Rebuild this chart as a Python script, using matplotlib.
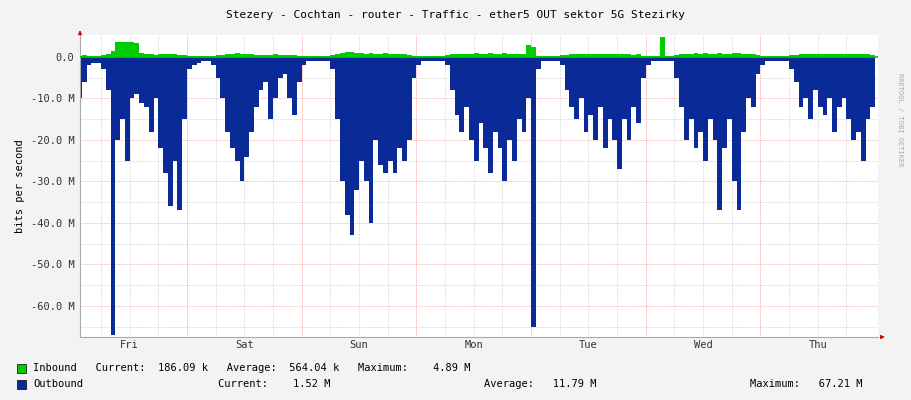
import matplotlib
matplotlib.use("Agg")
import matplotlib.pyplot as plt
import numpy as np

days = ["Fri", "Sat", "Sun", "Mon", "Tue", "Wed", "Thu"]
# outbound (M bits/s, plotted negative), hourly per day
out_fri = [10, 10, 6, 2, 1.5, 1.5, 3, 8, 67, 20, 15, 25, 10, 9, 11, 12, 18, 10, 22, 28, 36, 25, 37, 15]
out_sat = [3, 2, 1.5, 1, 1, 2, 5, 10, 18, 22, 25, 30, 24, 18, 12, 8, 6, 15, 10, 5, 4, 10, 14, 6]
out_sun = [2, 1, 1, 1, 1, 1, 3, 15, 30, 38, 43, 32, 25, 30, 40, 20, 26, 28, 25, 28, 22, 25, 20, 5]
out_mon = [2, 1, 1, 1, 1, 1, 2, 8, 14, 18, 12, 20, 25, 16, 22, 28, 18, 22, 30, 20, 25, 15, 18, 10]
out_tue = [65, 3, 1, 1, 1, 1, 2, 8, 12, 15, 10, 18, 14, 20, 12, 22, 15, 20, 27, 15, 20, 12, 16, 5]
out_wed = [2, 1, 1, 1, 1, 1, 5, 12, 20, 15, 22, 18, 25, 15, 20, 37, 22, 15, 30, 37, 18, 10, 12, 4]
out_thu = [2, 1, 1, 1, 1, 1, 3, 6, 12, 10, 15, 8, 12, 14, 10, 18, 12, 10, 15, 20, 18, 25, 15, 12]
# inbound (M bits/s), hourly per day
in_fri = [0.3, 0.3, 0.4, 0.3, 0.3, 0.3, 0.4, 0.8, 1.5, 3.5, 3.6, 3.5, 3.6, 3.4, 1.0, 0.6, 0.8, 0.5, 0.6, 0.7, 0.8, 0.6, 0.5, 0.4]
in_sat = [0.3, 0.2, 0.2, 0.2, 0.2, 0.3, 0.4, 0.5, 0.6, 0.8, 0.9, 0.8, 0.7, 0.6, 0.5, 0.5, 0.4, 0.5, 0.6, 0.5, 0.4, 0.5, 0.4, 0.3]
in_sun = [0.2, 0.2, 0.2, 0.2, 0.2, 0.3, 0.4, 0.8, 1.0, 1.1, 1.2, 1.0, 0.9, 0.8, 0.9, 0.7, 0.8, 0.9, 0.8, 0.7, 0.6, 0.6, 0.5, 0.3]
in_mon = [0.2, 0.2, 0.2, 0.2, 0.2, 0.3, 0.4, 0.6, 0.7, 0.8, 0.7, 0.8, 0.9, 0.7, 0.8, 0.9, 0.7, 0.8, 0.9, 0.7, 0.8, 0.6, 0.7, 2.8]
in_tue = [2.5, 0.3, 0.2, 0.2, 0.2, 0.3, 0.4, 0.5, 0.6, 0.7, 0.6, 0.7, 0.6, 0.7, 0.6, 0.7, 0.6, 0.7, 0.8, 0.6, 0.7, 0.5, 0.6, 0.3]
in_wed = [0.3, 0.2, 0.2, 4.9, 0.3, 0.3, 0.4, 0.6, 0.8, 0.7, 0.9, 0.8, 0.9, 0.7, 0.8, 0.9, 0.7, 0.8, 1.0, 0.9, 0.7, 0.6, 0.6, 0.4]
in_thu = [0.3, 0.2, 0.2, 0.2, 0.2, 0.3, 0.4, 0.5, 0.6, 0.7, 0.6, 0.7, 0.6, 0.7, 0.6, 0.7, 0.6, 0.7, 0.6, 0.7, 0.6, 0.7, 0.6, 0.5]

outbound = np.array(out_fri + out_sat + out_sun + out_mon + out_tue + out_wed + out_thu, float)
inbound = np.array(in_fri + in_sat + in_sun + in_mon + in_tue + in_wed + in_thu, float)
hours = np.arange(len(outbound) + 1, dtype=float)
outbound = np.append(outbound, outbound[-1])
inbound = np.append(inbound, inbound[-1])

mono = "DejaVu Sans Mono"
fig = plt.figure(figsize=(9.11, 4.0), dpi=100, facecolor="#F3F3F3")
ax = fig.add_axes([80/911, 63/400, 798/911, 302/400], facecolor="white")
ax.set_xlim(1.6, 168.6)
ax.set_ylim(-67.5, 5.3)

# grid
for h in np.arange(6, 168, 6):
    if h % 24 == 0:
        ax.axvline(h, color="#FF9090", lw=0.6, ls=(0, (1, 1)), zorder=1)
    else:
        ax.axvline(h, color="#C8C8C8", lw=0.5, ls=(0, (1, 1)), zorder=1)
for v in np.arange(-65, 5, 5):
    ax.axhline(v, color="#C8C8C8" if v % 10 else "#E0A0A0", lw=0.5, ls=(0, (1, 1)), zorder=1)

ax.fill_between(hours, 0, -outbound, step="post", color="#0A2A97", lw=0, zorder=2)
ax.fill_between(hours, 0, inbound, step="post", color="#00CC00", lw=0, zorder=3)
ax.axhline(0, color="#00CC00", lw=1.2, zorder=3)

ax.set_xticks([12 + 24*i for i in range(7)])
ax.set_xticklabels(days, fontsize=7.5, family=mono)
ax.tick_params(axis="x", length=0, which="both", pad=2, colors="#333333")
yt = np.arange(-60, 1, 10)
ax.set_yticks(yt)
ax.set_yticklabels(["0.0" if v == 0 else f"{v:.1f} M" for v in yt], fontsize=7.5, family=mono)
ax.tick_params(axis="y", length=0, pad=4, colors="#333333")
for s in ["top", "right"]:
    ax.spines[s].set_visible(False)
ax.spines["left"].set_color("#AAAAAA")
ax.spines["bottom"].set_color("#AAAAAA")
ax.set_ylabel("bits per second", fontsize=7.5, family=mono, labelpad=4)

# rrdtool-style axis arrows
ax.annotate("", xy=(1.012, 0), xytext=(1.0, 0), xycoords="axes fraction",
            arrowprops=dict(arrowstyle="-|>", color="#CC0000", lw=0.6, mutation_scale=6), annotation_clip=False)
ax.annotate("", xy=(0, 1.015), xytext=(0, 1.0), xycoords="axes fraction",
            arrowprops=dict(arrowstyle="-|>", color="#CC0000", lw=0.6, mutation_scale=6), annotation_clip=False)

fig.text(0.5, 0.962, "Stezery - Cochtan - router - Traffic - ether5 OUT sektor 5G Stezirky",
         ha="center", va="center", fontsize=8, family=mono)
fig.text(0.988, 0.7, "RRDTOOL / TOBI OETIKER", rotation=270, ha="center", va="center",
         fontsize=5, family=mono, color="#AAAAAA")

# legend
fig.patches.append(plt.Rectangle((17/911, 1 - 373/400), 9/911, 9/400, transform=fig.transFigure,
                                 facecolor="#00CC00", edgecolor="black", lw=0.5))
fig.patches.append(plt.Rectangle((17/911, 1 - 389/400), 9/911, 9/400, transform=fig.transFigure,
                                 facecolor="#0A2A97", edgecolor="black", lw=0.5))
fig.text(33/911, 1 - 368/400, "Inbound   Current:  186.09 k   Average:  564.04 k   Maximum:    4.89 M",
         va="center", fontsize=7.5, family=mono)
fig.text(33/911, 1 - 384/400, "Outbound", va="center", fontsize=7.5, family=mono)
fig.text(218/911, 1 - 384/400, "Current:    1.52 M", va="center", fontsize=7.5, family=mono)
fig.text(484/911, 1 - 384/400, "Average:   11.79 M", va="center", fontsize=7.5, family=mono)
fig.text(750/911, 1 - 384/400, "Maximum:   67.21 M", va="center", fontsize=7.5, family=mono)

fig.savefig("out.png", dpi=100, facecolor=fig.get_facecolor())
